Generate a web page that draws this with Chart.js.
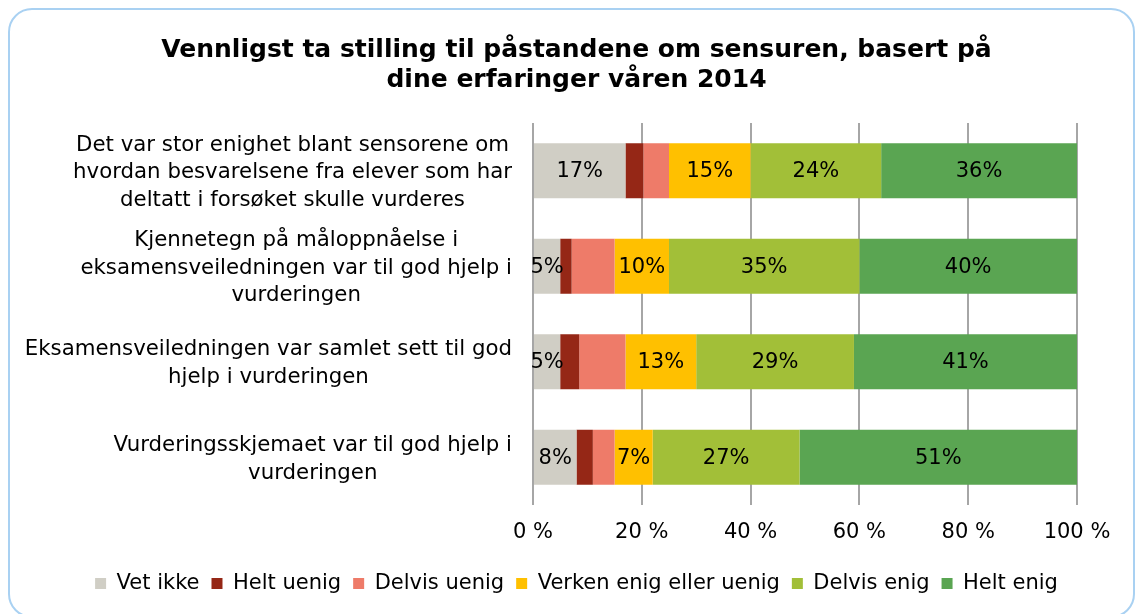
<!DOCTYPE html>
<html>
<head>
<meta charset="utf-8">
<script src="https://cdn.jsdelivr.net/npm/chart.js@4.4.1/dist/chart.umd.min.js"></script>
<style>
  html, body { margin: 0; padding: 0; background: #fff; }
  #wrap { position: relative; width: 1137px; height: 614px; overflow: hidden; }
  #wrap canvas { position: absolute; left: 0; top: 0; }
  #frame {
    position: absolute; left: 8px; top: 8px; width: 1123px; height: 606px;
    border: 2px solid #a9d1f2; border-radius: 24px; pointer-events: none;
  }
</style>
</head>
<body>
<div id="wrap">
  <canvas id="chart" width="1137" height="614"></canvas>
  <div id="frame"></div>
</div>
<script>
// Statements (one per bar), already split into display lines
const categories = [
  ['Det var stor enighet blant sensorene om', 'hvordan besvarelsene fra elever som har', 'deltatt i forsøket skulle vurderes'],
  ['Kjennetegn på måloppnåelse i', 'eksamensveiledningen var til god hjelp i', 'vurderingen'],
  ['Eksamensveiledningen var samlet sett til god', 'hjelp i vurderingen'],
  ['Vurderingsskjemaet var til god hjelp i', 'vurderingen']
];

const seriesNames = ['Vet ikke', 'Helt uenig', 'Delvis uenig', 'Verken enig eller uenig', 'Delvis enig', 'Helt enig'];

// Share of answers (%) per statement
const vetIkke     = [17, 5, 5, 8];
const heltUenig   = [3.3, 2.1, 3.5, 3.0];
const delvisUenig = [4.7, 7.9, 8.5, 4.0];
const verken      = [15, 10, 13, 7];
const delvisEnig  = [24, 35, 29, 27];
const heltEnig    = [36, 40, 41, 51];

const xTicks = [0, 20, 40, 60, 80, 100];

const titleLines = ['Vennligst ta stilling til påstandene om sensuren, basert på', 'dine erfaringer våren 2014'];

const seriesColors = ['#d0cec5', '#952716', '#ee7b69', '#ffc000', '#a2bf38', '#5aa552'];
const seriesLabelled = [true, false, false, true, true, true];
const seriesValues = [vetIkke, heltUenig, delvisUenig, verken, delvisEnig, heltEnig];

const FONT = 'DejaVu Sans';
Chart.defaults.font.family = FONT;
Chart.defaults.color = '#000';

// Percent labels centred inside the segments
const valueLabels = {
  id: 'valueLabels',
  afterDatasetsDraw(chart) {
    const ctx = chart.ctx;
    ctx.save();
    ctx.font = '21px "' + FONT + '"';
    ctx.fillStyle = '#000';
    ctx.textAlign = 'center';
    ctx.textBaseline = 'middle';
    chart.data.datasets.forEach((ds, di) => {
      if (!ds.showValue) return;
      chart.getDatasetMeta(di).data.forEach((bar, i) => {
        const cx = (bar.x + bar.base) / 2;
        ctx.fillText(Math.round(ds.data[i]) + '%', cx, bar.y + 1);
      });
    });
    ctx.restore();
  }
};

// Category captions: each block centred on its own widest line, right edge near the axis
const categoryLabels = {
  id: 'categoryLabels',
  afterDraw(chart) {
    const ctx = chart.ctx;
    const yScale = chart.scales.y;
    const right = chart.chartArea.left - 21;
    const lineH = 27.7;
    ctx.save();
    ctx.font = '21.3px "' + FONT + '"';
    ctx.fillStyle = '#000';
    ctx.textAlign = 'center';
    ctx.textBaseline = 'middle';
    categories.forEach((lines, i) => {
      const widest = Math.max(...lines.map(l => ctx.measureText(l).width));
      const cx = right - widest / 2;
      const cy = yScale.getPixelForValue(i) + 2;
      const top = cy - (lines.length - 1) * lineH / 2;
      lines.forEach((l, k) => ctx.fillText(l, cx, top + k * lineH));
    });
    ctx.restore();
  }
};

const datasets = seriesNames.map((name, i) => ({
  label: name,
  data: seriesValues[i],
  backgroundColor: seriesColors[i],
  borderWidth: 0,
  barPercentage: 0.576,
  categoryPercentage: 1.0,
  showValue: seriesLabelled[i]
}));

new Chart(document.getElementById('chart'), {
  type: 'bar',
  data: { labels: categories.map(c => c.join(' ')), datasets },
  options: {
    indexAxis: 'y',
    responsive: false,
    animation: false,
    devicePixelRatio: 1,
    layout: { padding: { left: 76, right: 60, top: 0, bottom: 10 } },
    scales: {
      x: {
        stacked: true,
        min: xTicks[0],
        max: xTicks[xTicks.length - 1],
        afterBuildTicks(scale) { scale.ticks = xTicks.map(v => ({ value: v })); },
        ticks: {
          callback: v => v + ' %',
          font: { size: 21 },
          color: '#000',
          padding: 15,
          maxRotation: 0
        },
        grid: { color: '#a6a6a6', lineWidth: 2, drawTicks: false },
        border: { display: false },
        afterFit(scale) { scale.height = 56; }
      },
      y: {
        stacked: true,
        ticks: { display: false },
        grid: { display: false },
        border: { display: false },
        afterFit(scale) { scale.width = 533 - 76; }
      }
    },
    plugins: {
      title: {
        display: true,
        text: titleLines,
        font: { size: 25, weight: 'bold', lineHeight: 1.2 },
        color: '#000',
        padding: { top: 35, bottom: 28 }
      },
      legend: {
        position: 'bottom',
        labels: {
          boxWidth: 11,
          boxHeight: 11,
          padding: 12,
          font: { size: 21 },
          color: '#000'
        }
      },
      tooltip: { enabled: false }
    }
  },
  plugins: [valueLabels, categoryLabels]
});
</script>
</body>
</html>
